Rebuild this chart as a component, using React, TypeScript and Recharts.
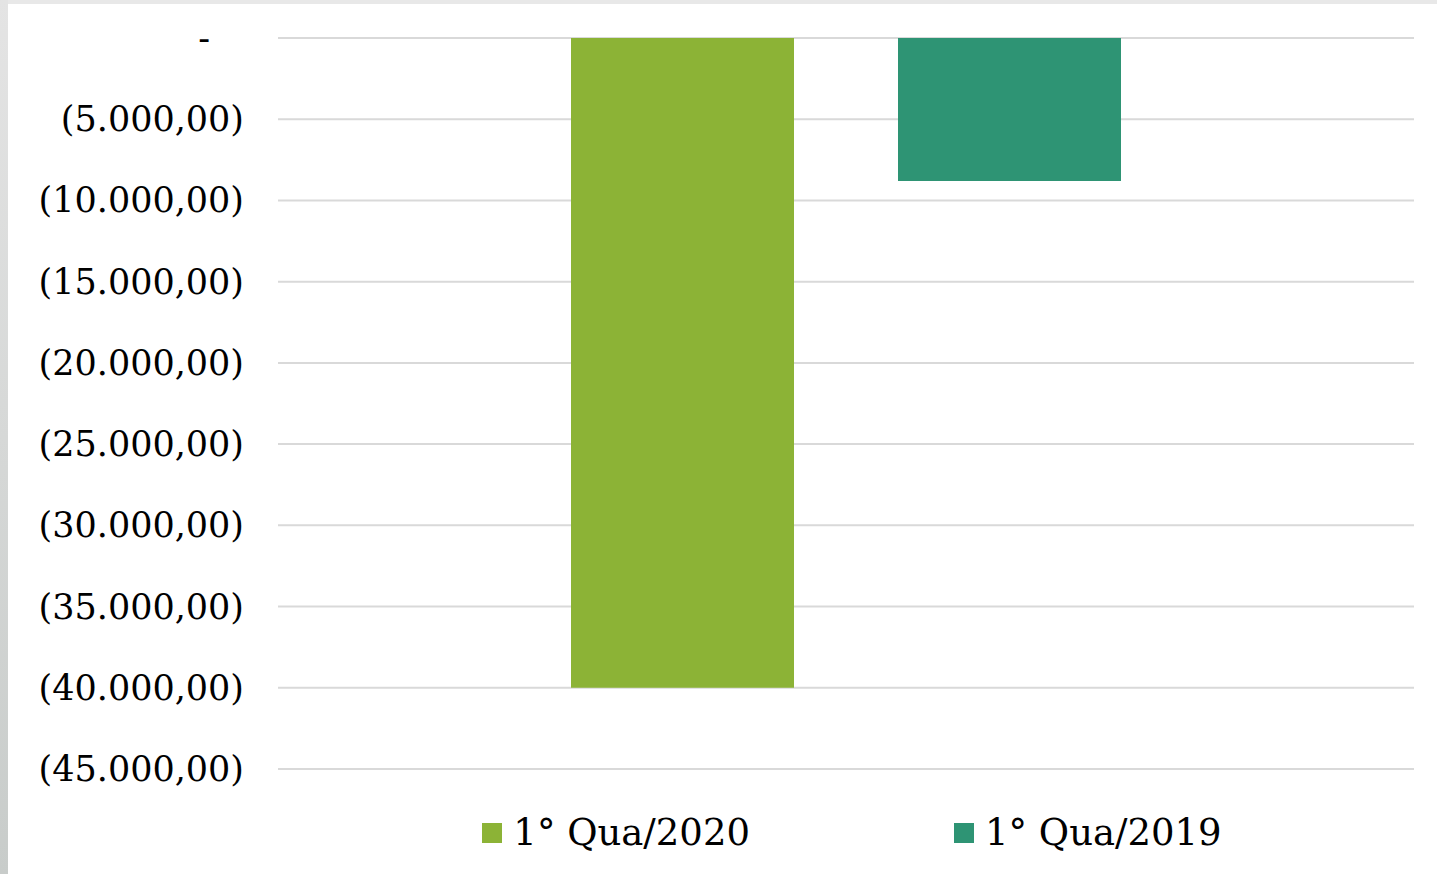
import React from "react";
import { BarChart, Bar, XAxis, YAxis, CartesianGrid, Legend } from "recharts";

// values
const categories = ["1° Quadrimestre"];
const seriesNames = ["1° Qua/2020", "1° Qua/2019"];
const values2020 = [-40000];
const values2019 = [-8800];
const yTicks = [0, -5000, -10000, -15000, -20000, -25000, -30000, -35000, -40000, -45000];

const colors = ["#8cb336", "#2e9474"];
const font = "'DejaVu Serif', serif";

const data = categories.map((c, i) => ({
  name: c,
  q2020: values2020[i],
  q2019: values2019[i],
}));

// 5000 -> "5.000,00"
function fmtBR(v: number) {
  const abs = Math.abs(v);
  const int = Math.floor(abs).toString().replace(/\B(?=(\d{3})+(?!\d))/g, ".");
  const dec = Math.round((abs % 1) * 100).toString().padStart(2, "0");
  return `${int},${dec}`;
}

function YTick(props: any) {
  const { x, y, payload } = props;
  const v = payload.value as number;
  const label = v === 0 ? "-" : v < 0 ? `(${fmtBR(v)})` : fmtBR(v);
  const dx = v === 0 ? -34 : 0;
  return (
    <text
      x={x + dx}
      y={y}
      dy={12}
      textAnchor="end"
      fill="#000"
      fontFamily={font}
      fontSize={35}
    >
      {label}
    </text>
  );
}

// keep series order (recharts sorts legend items by name otherwise)
function LegendContent() {
  return (
    <div
      style={{
        display: "flex",
        justifyContent: "center",
        gap: 204,
        fontFamily: font,
        paddingTop: 44,
        paddingLeft: 12,
      }}
    >
      {seriesNames.map((name, i) => (
        <div key={name} style={{ display: "flex", alignItems: "center" }}>
          <span
            style={{
              width: 20,
              height: 20,
              background: colors[i],
              display: "inline-block",
              marginRight: 11,
            }}
          />
          <span style={{ fontSize: 37, color: "#000", lineHeight: "40px" }}>{name}</span>
        </div>
      ))}
    </div>
  );
}

export default function App() {
  return (
    <div
      style={{
        position: "absolute",
        left: 0,
        top: 0,
        width: 1437,
        height: 874,
        background: "#e8e8e8",
        overflow: "hidden",
      }}
    >
      <div
        style={{
          position: "absolute",
          left: 0,
          top: 0,
          width: 8,
          height: 874,
          background: "linear-gradient(#e4e4e4, #c8ccca)",
        }}
      />
      <div style={{ position: "absolute", left: 8, top: 4, width: 1429, height: 870, background: "#fff" }}>
        <BarChart
          width={1429}
          height={870}
          data={data}
          margin={{ top: 34, right: 23, left: 0, bottom: 0 }}
          barSize={223}
          barGap={104}
        >
          <CartesianGrid vertical={false} stroke="#d9d9d9" strokeWidth={2} />
          <XAxis dataKey="name" hide />
          <YAxis
            width={270}
            domain={[-45000, 0]}
            ticks={yTicks}
            interval={0}
            axisLine={false}
            tickLine={false}
            tickSize={0}
            tickMargin={34}
            tick={<YTick />}
          />
          <Legend
            verticalAlign="bottom"
            content={<LegendContent />}
            wrapperStyle={{ left: 270, width: 1136, height: 105, overflow: "hidden" }}
          />
          <Bar dataKey="q2020" name={seriesNames[0]} fill={colors[0]} isAnimationActive={false} />
          <Bar dataKey="q2019" name={seriesNames[1]} fill={colors[1]} isAnimationActive={false} />
        </BarChart>
      </div>
    </div>
  );
}
